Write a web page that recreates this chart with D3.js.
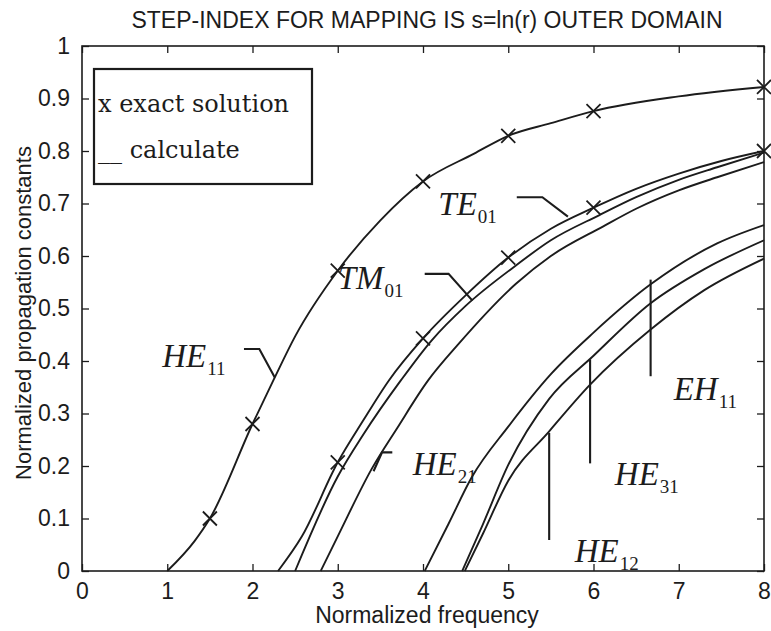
<!DOCTYPE html>
<html><head><meta charset="utf-8">
<script src="https://cdn.jsdelivr.net/npm/d3@7"></script>
<style>
html,body{margin:0;padding:0;background:#fff;}
svg{display:block;}
</style></head>
<body>
<svg id="chart" width="771" height="631"></svg>
<script>
// ---- data ----
const titleText = "STEP-INDEX FOR MAPPING IS s=ln(r) OUTER DOMAIN";
const xTitle = "Normalized frequency";
const yTitle = "Normalized propagation constants";
const xTicks = [0,1,2,3,4,5,6,7,8];
const xTickLabels = ["0","1","2","3","4","5","6","7","8"];
const yTicks = [0,0.1,0.2,0.3,0.4,0.5,0.6,0.7,0.8,0.9,1];
const yTickLabels = ["0","0.1","0.2","0.3","0.4","0.5","0.6","0.7","0.8","0.9","1"];

// calculated curves [V, b]
const he11 = [[1.0,0],[1.32,0.057],[1.5,0.10],[2.0,0.28],[2.25,0.365],[2.5,0.447],[3.0,0.572],[3.5,0.668],[4.0,0.742],[4.6,0.795],[5.0,0.829],[5.5,0.853],[6.0,0.876],[7.0,0.904],[8.0,0.922]];
const te01 = [[2.3,0],[2.58,0.066],[3.0,0.207],[3.3,0.287],[3.6,0.363],[4.0,0.443],[4.5,0.525],[5.0,0.597],[5.5,0.652],[6.0,0.692],[6.5,0.728],[7.0,0.757],[7.5,0.781],[8.0,0.80]];
const tm01 = [[2.5,0],[3.0,0.18],[3.3,0.26],[3.74,0.363],[4.1,0.439],[4.5,0.505],[5.09,0.582],[5.5,0.63],[6.07,0.678],[6.5,0.712],[7.0,0.745],[7.45,0.769],[8.0,0.797]];
const he21 = [[2.8,0],[3.0,0.066],[3.4,0.195],[3.7,0.273],[4.06,0.363],[4.42,0.433],[5.09,0.547],[5.5,0.6],[6.11,0.656],[6.5,0.69],[7.0,0.725],[7.45,0.75],[8.0,0.779]];
const eh11 = [[4.02,0],[4.3,0.09],[4.57,0.178],[5.0,0.275],[5.5,0.375],[6.0,0.454],[6.67,0.546],[7.45,0.624],[8.0,0.659]];
const he31 = [[4.46,0],[4.7,0.088],[5.0,0.202],[5.48,0.328],[6.0,0.41],[6.67,0.51],[7.3,0.575],[8.0,0.63]];
const he12 = [[4.49,0],[4.7,0.07],[5.0,0.172],[5.48,0.266],[5.96,0.355],[6.67,0.46],[7.3,0.535],[8.0,0.595]];

// exact solution markers [V, b]
const he11Exact = [[1.5,0.10],[2.0,0.28],[3.0,0.572],[4.0,0.742],[5.0,0.829],[6.0,0.876],[8.0,0.922]];
const te01Exact = [[3.0,0.207],[4.0,0.443],[5.0,0.597],[6.0,0.692],[8.0,0.80]];

// annotations (data units)
const modeLabels = [
  {main:"HE", sub:"11", x:0.94, y:0.388},
  {main:"TM", sub:"01", x:3.0,  y:0.537},
  {main:"TE", sub:"01", x:4.18, y:0.678},
  {main:"HE", sub:"21", x:3.88, y:0.183},
  {main:"EH", sub:"11", x:6.94, y:0.326},
  {main:"HE", sub:"31", x:6.25, y:0.164},
  {main:"HE", sub:"12", x:5.78, y:0.018}
];
const pointers = [
  [[1.9,0.423],[2.08,0.423],[2.26,0.369]],
  [[4.02,0.566],[4.3,0.566],[4.58,0.515]],
  [[5.1,0.712],[5.4,0.712],[5.7,0.675]],
  [[3.64,0.226],[3.52,0.226],[3.42,0.19]],
  [[6.67,0.555],[6.67,0.371]],
  [[5.96,0.403],[5.96,0.205]],
  [[5.48,0.263],[5.48,0.059]]
];
const legendItems = ["x exact solution", "__ calculate"];

// ---- drawing ----
const svg = d3.select("#chart");
const L = 82, R = 764, T = 46, B = 571;
const x = d3.scaleLinear().domain([0,8]).range([L,R]);
const y = d3.scaleLinear().domain([0,1]).range([B,T]);
const ink = "#1c1c1c";
const sans = "'Liberation Sans', Arial, sans-serif";

svg.append("text").attr("x", 427).attr("y", 28).attr("text-anchor","middle")
  .attr("font-family", sans).attr("font-size", 23).attr("fill", ink).text(titleText);

// axes with inward ticks on all four sides
const ax = (g) => { g.selectAll(".domain").remove(); g.selectAll("line").attr("stroke", ink).attr("stroke-width",1.3); };
svg.append("g").attr("transform",`translate(0,${B})`)
  .call(d3.axisBottom(x).tickValues(xTicks).tickFormat((d,i)=>xTickLabels[i]).tickSize(-7).tickPadding(12))
  .call(ax).call(g=>g.selectAll("text").attr("font-family",sans).attr("font-size",23).attr("fill",ink));
svg.append("g").attr("transform",`translate(0,${T})`)
  .call(d3.axisTop(x).tickValues(xTicks).tickFormat("").tickSize(-7)).call(ax);
svg.append("g").attr("transform",`translate(${L},0)`)
  .call(d3.axisLeft(y).tickValues(yTicks).tickFormat((d,i)=>yTickLabels[i]).tickSize(-7).tickPadding(12))
  .call(ax).call(g=>g.selectAll("text").attr("font-family",sans).attr("font-size",23).attr("fill",ink));
svg.append("g").attr("transform",`translate(${R},0)`)
  .call(d3.axisRight(y).tickValues(yTicks).tickFormat("").tickSize(-7)).call(ax);

svg.append("rect").attr("x",L).attr("y",T).attr("width",R-L).attr("height",B-T)
  .attr("fill","none").attr("stroke",ink).attr("stroke-width",1.6);

svg.append("text").attr("x", 427).attr("y", 623).attr("text-anchor","middle")
  .attr("font-family", sans).attr("font-size", 23).attr("fill", ink).text(xTitle);
svg.append("text").attr("transform","translate(31,313) rotate(-90)").attr("text-anchor","middle")
  .attr("font-family", sans).attr("font-size", 22).attr("fill", ink).text(yTitle);

// curves
const line = d3.line().x(d=>x(d[0])).y(d=>y(d[1])).curve(d3.curveMonotoneX);
[he11, te01, tm01, he21, eh11, he31, he12].forEach(s => {
  svg.append("path").datum(s).attr("d", line).attr("fill","none")
    .attr("stroke", ink).attr("stroke-width", 1.9).attr("stroke-linejoin","round");
});

// exact markers
const cross = "M-7,-7L7,7M-7,7L7,-7";
[he11Exact, te01Exact].forEach(s => {
  svg.append("g").selectAll("path").data(s).join("path")
    .attr("transform", d=>`translate(${x(d[0])},${y(d[1])})`)
    .attr("d", cross).attr("stroke", ink).attr("stroke-width", 1.8).attr("fill","none");
});

// pointers
const pline = d3.line().x(d=>x(d[0])).y(d=>y(d[1]));
pointers.forEach(p => {
  svg.append("path").attr("d", pline(p)).attr("fill","none").attr("stroke", ink).attr("stroke-width", 2.1);
});

// mode labels
modeLabels.forEach(m => {
  const t = svg.append("text").attr("x", x(m.x)).attr("y", y(m.y))
    .attr("font-family","'Liberation Serif','Times New Roman',serif").attr("fill", ink);
  t.append("tspan").attr("font-style","italic").attr("font-size", 33).text(m.main);
  t.append("tspan").attr("font-size", 19).attr("dx", 1).attr("dy", 8).text(m.sub);
});

// legend
const lg = svg.append("g");
lg.append("rect").attr("x", L+12).attr("y", T+23).attr("width", 218).attr("height", 115)
  .attr("fill","#fff").attr("stroke", ink).attr("stroke-width", 2.2);
legendItems.forEach((s,i) => {
  lg.append("text").attr("x", L+16).attr("y", T+66 + i*46)
    .attr("font-family","'DejaVu Serif',serif").attr("font-size", 24).attr("fill", ink).text(s);
});
</script>
</body></html>
